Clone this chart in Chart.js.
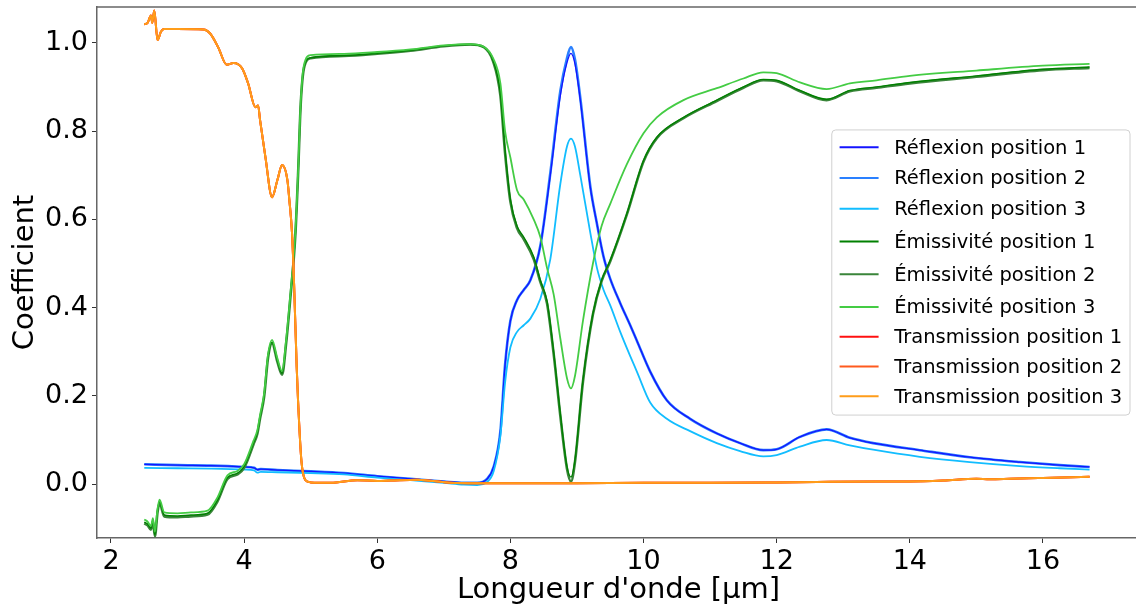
<!DOCTYPE html>
<html>
<head>
<meta charset="utf-8">
<script src="https://cdn.jsdelivr.net/npm/chart.js@4/dist/chart.umd.min.js"></script>
<style>
  html, body { margin: 0; padding: 0; background: #fff; overflow: hidden; }
  #wrap { width: 1146px; height: 606px; }
</style>
</head>
<body>
<div id="wrap"><canvas id="chart" width="1146" height="606"></canvas></div>
<script>
// axis ticks
const xTicks = [2, 4, 6, 8, 10, 12, 14, 16];
const yTicks = [0, 0.2, 0.4, 0.6, 0.8, 1.0];

// Réflexion – wavelengths (µm) and values
const reflWl = [2.5, 3.0, 3.5, 4.0, 4.15, 4.2, 4.25, 4.5, 5.0, 5.5, 6.0, 6.5, 7.0, 7.3, 7.5, 7.65, 7.75, 7.85, 7.92, 8.0,
  8.1, 8.2, 8.3, 8.45, 8.6, 8.75, 8.85, 8.91, 8.97, 9.05, 9.2, 9.3, 9.4, 9.5, 9.65, 9.8, 9.9, 10.1, 10.35, 10.7,
  11.1, 11.45, 11.8, 12.0, 12.35, 12.75, 13.1, 13.45, 14.15, 14.9, 15.65, 16.25, 16.7];
const reflPos1 = [0.045, 0.043, 0.042, 0.039, 0.037, 0.033, 0.034, 0.032, 0.029, 0.025, 0.018, 0.012, 0.006, 0.003, 0.003, 0.012, 0.04, 0.12, 0.27, 0.37,
  0.417, 0.44, 0.462, 0.54, 0.70, 0.88, 0.955, 0.976, 0.952, 0.87, 0.673, 0.59, 0.515, 0.465, 0.41, 0.36, 0.325, 0.255, 0.19, 0.148,
  0.115, 0.093, 0.077, 0.079, 0.107, 0.124, 0.105, 0.093, 0.077, 0.061, 0.05, 0.043, 0.039];
const reflPos2 = [0.045, 0.043, 0.042, 0.039, 0.037, 0.033, 0.034, 0.032, 0.029, 0.025, 0.018, 0.012, 0.006, 0.003, 0.003, 0.012, 0.04, 0.12, 0.27, 0.37,
  0.417, 0.44, 0.462, 0.54, 0.705, 0.89, 0.965, 0.99, 0.962, 0.875, 0.675, 0.59, 0.515, 0.465, 0.41, 0.36, 0.325, 0.255, 0.19, 0.148,
  0.115, 0.093, 0.077, 0.079, 0.107, 0.124, 0.105, 0.093, 0.077, 0.061, 0.05, 0.043, 0.039];
const reflPos3 = [0.037, 0.036, 0.035, 0.033, 0.031, 0.026, 0.028, 0.027, 0.025, 0.022, 0.015, 0.009, 0.003, -0.001, -0.002, 0.005, 0.03, 0.11, 0.23, 0.31,
  0.345, 0.36, 0.375, 0.42, 0.51, 0.68, 0.765, 0.783, 0.765, 0.70, 0.57, 0.49, 0.44, 0.405, 0.345, 0.29, 0.255, 0.185, 0.148, 0.12,
  0.093, 0.075, 0.063, 0.066, 0.085, 0.10, 0.088, 0.078, 0.062, 0.05, 0.041, 0.036, 0.033];

// Émissivité
const emisWl = [2.5, 2.55, 2.6, 2.63, 2.66, 2.7, 2.73, 2.8, 3.0, 3.2, 3.45, 3.6, 3.75, 3.9, 4.0, 4.14, 4.2, 4.24, 4.3, 4.36,
  4.42, 4.5, 4.57, 4.63, 4.69, 4.77, 4.81, 4.85, 4.9, 5.0, 5.5, 6.0, 6.5, 7.0, 7.4, 7.6, 7.74, 7.85, 7.92, 8.0,
  8.1, 8.2, 8.35, 8.45, 8.55, 8.65, 8.75, 8.85, 8.91, 8.97, 9.09, 9.24, 9.37, 9.5, 9.75, 10.0, 10.2, 10.6, 11.1, 11.5,
  11.8, 12.0, 12.35, 12.75, 13.1, 13.5, 14.0, 15.0, 16.0, 16.7];
const emisPos1 = [-0.086, -0.09, -0.1, -0.082, -0.115, -0.06, -0.04, -0.07, -0.072, -0.07, -0.066, -0.036, 0.015, 0.025, 0.04, 0.093, 0.118, 0.152, 0.2, 0.29,
  0.322, 0.28, 0.251, 0.32, 0.417, 0.568, 0.70, 0.86, 0.945, 0.966, 0.971, 0.976, 0.983, 0.993, 0.996, 0.99, 0.96, 0.885, 0.757, 0.645,
  0.585, 0.56, 0.515, 0.462, 0.415, 0.30, 0.16, 0.04, 0.016, 0.055, 0.236, 0.387, 0.462, 0.507, 0.613, 0.733, 0.786, 0.831, 0.87, 0.90,
  0.917, 0.915, 0.892, 0.872, 0.892, 0.90, 0.91, 0.925, 0.94, 0.945];
const emisPos2 = [-0.089, -0.093, -0.103, -0.085, -0.118, -0.063, -0.043, -0.073, -0.075, -0.073, -0.069, -0.039, 0.012, 0.022, 0.037, 0.09, 0.115, 0.149, 0.197, 0.287,
  0.319, 0.277, 0.248, 0.317, 0.414, 0.565, 0.70, 0.86, 0.943, 0.965, 0.970, 0.975, 0.982, 0.992, 0.996, 0.99, 0.958, 0.88, 0.75, 0.64,
  0.58, 0.555, 0.51, 0.458, 0.41, 0.295, 0.155, 0.035, 0.006, 0.05, 0.232, 0.385, 0.46, 0.505, 0.611, 0.731, 0.784, 0.829, 0.868, 0.898,
  0.915, 0.913, 0.89, 0.87, 0.89, 0.898, 0.908, 0.923, 0.938, 0.943];
const emisPos3 = [-0.08, -0.085, -0.095, -0.077, -0.108, -0.055, -0.035, -0.064, -0.066, -0.064, -0.06, -0.03, 0.02, 0.03, 0.045, 0.098, 0.123, 0.157, 0.205, 0.295,
  0.327, 0.285, 0.256, 0.325, 0.422, 0.573, 0.705, 0.865, 0.95, 0.972, 0.975, 0.979, 0.985, 0.994, 0.997, 0.991, 0.965, 0.908, 0.80, 0.74,
  0.666, 0.645, 0.60, 0.56, 0.49, 0.43, 0.33, 0.24, 0.217, 0.245, 0.37, 0.50, 0.585, 0.635, 0.725, 0.795, 0.831, 0.87, 0.897, 0.919,
  0.933, 0.931, 0.91, 0.895, 0.908, 0.915, 0.925, 0.937, 0.948, 0.952];

// Transmission
const transWl = [2.5, 2.55, 2.6, 2.62, 2.65, 2.7, 2.75, 2.8, 3.0, 3.39, 3.49, 3.61, 3.74, 3.84, 3.97, 4.06, 4.17, 4.21, 4.24, 4.32,
  4.42, 4.5, 4.57, 4.65, 4.68, 4.72, 4.75, 4.79, 4.81, 4.86, 4.92, 5.0, 5.3, 5.7, 6.0, 6.2, 6.6, 7.1, 7.5, 8.0,
  9.0, 10.0, 11.0, 12.0, 12.6, 13.5, 14.0, 14.5, 15.0, 15.2, 15.5, 16.0, 16.7];
const transPos1 = [1.042, 1.045, 1.062, 1.045, 1.073, 1.006, 1.025, 1.031, 1.031, 1.03, 1.021, 0.99, 0.95, 0.954, 0.942, 0.908, 0.854, 0.858, 0.824, 0.741,
  0.65, 0.689, 0.723, 0.689, 0.643, 0.568, 0.455, 0.265, 0.19, 0.054, 0.009, 0.004, 0.003, 0.009, 0.007, 0.008, 0.01, 0.003, 0.002, 0.002,
  0.002, 0.003, 0.003, 0.004, 0.005, 0.006, 0.006, 0.008, 0.012, 0.011, 0.012, 0.014, 0.017];
const transPos2 = [1.042, 1.045, 1.062, 1.045, 1.073, 1.006, 1.025, 1.031, 1.031, 1.03, 1.021, 0.99, 0.95, 0.954, 0.942, 0.908, 0.854, 0.858, 0.824, 0.741,
  0.65, 0.689, 0.723, 0.689, 0.643, 0.568, 0.455, 0.265, 0.19, 0.054, 0.009, 0.004, 0.003, 0.009, 0.007, 0.008, 0.01, 0.003, 0.002, 0.002,
  0.002, 0.003, 0.003, 0.004, 0.005, 0.006, 0.006, 0.008, 0.012, 0.011, 0.012, 0.014, 0.017];
const transPos3 = [1.042, 1.045, 1.062, 1.045, 1.073, 1.006, 1.025, 1.031, 1.031, 1.03, 1.021, 0.99, 0.95, 0.954, 0.942, 0.908, 0.854, 0.858, 0.824, 0.741,
  0.65, 0.689, 0.723, 0.689, 0.643, 0.568, 0.455, 0.265, 0.19, 0.054, 0.009, 0.004, 0.003, 0.009, 0.007, 0.008, 0.01, 0.003, 0.002, 0.002,
  0.002, 0.003, 0.003, 0.004, 0.005, 0.006, 0.006, 0.008, 0.012, 0.011, 0.012, 0.014, 0.017];

const FONT = "'DejaVu Sans', 'Liberation Sans', sans-serif";

function pts(xs, ys) {
  return xs.map((x, i) => ({ x, y: ys[i] }));
}

// series: label, x, y, colour, width, draw order (lower = on top)
const series = [
  ['Réflexion position 1', reflWl, reflPos1, '#1414ff', 1.3, 7],
  ['Réflexion position 2', reflWl, reflPos2, '#2a80ff', 2.6, 8],
  ['Réflexion position 3', reflWl, reflPos3, '#12bdff', 1.8, 6],
  ['Émissivité position 1', emisWl, emisPos1, '#008000', 1.4, 4],
  ['Émissivité position 2', emisWl, emisPos2, '#3a853a', 2.6, 5],
  ['Émissivité position 3', emisWl, emisPos3, '#44cc44', 1.8, 3],
  ['Transmission position 1', transWl, transPos1, '#ff1010', 2, 2],
  ['Transmission position 2', transWl, transPos2, '#ff5a1e', 2, 1],
  ['Transmission position 3', transWl, transPos3, '#ff9d1a', 2, 0],
];

const datasets = series.map(([label, xs, ys, color, w, order]) => ({
  label,
  data: pts(xs, ys),
  borderColor: color,
  backgroundColor: color,
  borderWidth: w,
  order,
  pointRadius: 0,
  fill: false,
  cubicInterpolationMode: 'monotone',
}));

// top spine (the right one falls outside the picture)
const frame = {
  id: 'frame',
  afterDatasetsDraw(chart) {
    const { ctx, chartArea: a } = chart;
    ctx.save();
    ctx.strokeStyle = '#666';
    ctx.lineWidth = 1.5;
    ctx.beginPath();
    ctx.moveTo(a.left, a.top);
    ctx.lineTo(a.right, a.top);
    ctx.stroke();
    ctx.restore();
  }
};

// legend inside the plot, centre right
const legendBox = {
  id: 'legendBox',
  afterDraw(chart) {
    const { ctx, chartArea: a } = chart;
    const fs = 19.5;
    const pad = 0.4 * fs, gap = 0.52 * fs, handle = 2 * fs, textPad = 0.8 * fs;
    ctx.save();
    ctx.font = fs + 'px ' + FONT;
    const rows = chart.data.datasets.map(ds => {
      const m = ctx.measureText(ds.label);
      return { ds, w: m.width, asc: m.actualBoundingBoxAscent, desc: Math.max(m.actualBoundingBoxDescent, 0.236 * fs) };
    });
    const maxW = Math.max(...rows.map(r => r.w));
    const h = pad * 2 + rows.reduce((s, r) => s + r.asc + r.desc, 0) + gap * (rows.length - 1);
    const w = pad * 2 + handle + textPad + maxW;
    const x0 = 1130 - w;
    const y0 = (a.top + a.bottom) / 2 - h / 2;

    ctx.beginPath();
    ctx.roundRect(x0, y0, w, h, 4);
    ctx.fillStyle = 'rgba(255,255,255,0.8)';
    ctx.fill();
    ctx.strokeStyle = '#d0d0d0';
    ctx.lineWidth = 1;
    ctx.stroke();

    let y = y0 + pad;
    ctx.textBaseline = 'alphabetic';
    ctx.textAlign = 'left';
    rows.forEach(r => {
      const base = y + r.asc;
      const hy = base - 0.33 * fs;
      ctx.beginPath();
      ctx.strokeStyle = r.ds.borderColor;
      ctx.lineWidth = 2;
      ctx.moveTo(x0 + pad, hy);
      ctx.lineTo(x0 + pad + handle, hy);
      ctx.stroke();
      ctx.fillStyle = '#000';
      ctx.fillText(r.ds.label, x0 + pad + handle + textPad, base);
      y = base + r.desc + gap;
    });
    ctx.restore();
  }
};

new Chart(document.getElementById('chart'), {
  type: 'line',
  data: { datasets },
  plugins: [frame, legendBox],
  options: {
    responsive: false,
    animation: false,
    devicePixelRatio: 1,
    layout: { padding: { top: 7, right: 6, left: 0, bottom: 0 } },
    plugins: { legend: { display: false }, tooltip: { enabled: false } },
    elements: { point: { radius: 0 } },
    scales: {
      x: {
        type: 'linear',
        min: 1.79,
        max: 17.458,
        afterBuildTicks: s => { s.ticks = xTicks.map(v => ({ value: v })); },
        afterFit: s => { s.height = 68; s.paddingLeft = 0; s.paddingRight = 0; },
        grid: { drawOnChartArea: false, drawTicks: true, tickLength: 5, tickColor: '#333' },
        border: { display: true, color: '#666', width: 1.5 },
        ticks: { font: { family: FONT, size: 27 }, color: '#000', padding: 3, maxRotation: 0, autoSkip: false, callback: v => String(v) },
        title: { display: true, text: "Longueur d'onde [µm]", color: '#000', font: { family: FONT, size: 29, lineHeight: 1.1 }, padding: { top: 0, bottom: 0 } }
      },
      y: {
        min: -0.122,
        max: 1.081,
        afterBuildTicks: s => { s.ticks = yTicks.map(v => ({ value: v })); },
        afterFit: s => { s.width = 97; s.paddingTop = 0; s.paddingBottom = 0; },
        grid: { drawOnChartArea: false, drawTicks: true, tickLength: 5, tickColor: '#333' },
        border: { display: true, color: '#666', width: 1.5 },
        ticks: { font: { family: FONT, size: 27 }, color: '#000', padding: 4, autoSkip: false, callback: v => v.toFixed(1) },
        title: { display: true, text: 'Coefficient', color: '#000', font: { family: FONT, size: 29, lineHeight: 1.2 }, padding: { top: 8, bottom: 0 } }
      }
    }
  }
});
</script>
</body>
</html>
